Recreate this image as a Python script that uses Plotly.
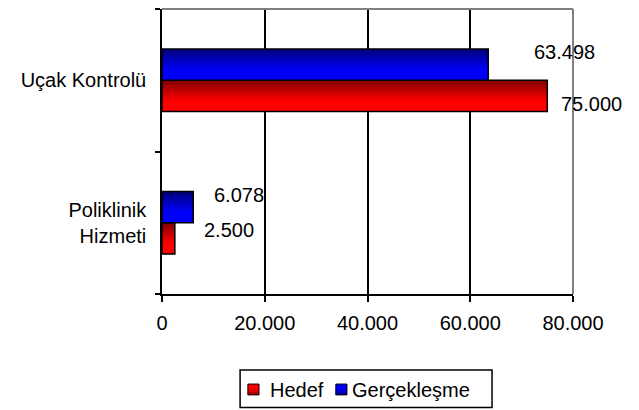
import plotly.graph_objects as go

# data
categories = ["Poliklinik Hizmeti", "Uçak Kontrolü"]
category_labels = ["Poliklinik<br>Hizmeti", "Uçak Kontrolü"]
hedef = [2500, 75000]
gerceklesme = [6078, 63498]
x_ticks = [0, 20000, 40000, 60000, 80000]
series_names = ["Hedef", "Gerçekleşme"]

FONT = "Liberation Sans, Arial, sans-serif"
BAR_H = 0.22
N_STRIPES = 18
RED = ((0x80, 0, 0), (0xff, 0, 0))
BLUE = ((0, 0, 0x78), (0, 0, 0xf8))


def fmt(v):
    return f"{v:,}".replace(",", ".")


def shade(dark, bright, t):
    # t = 0 top of bar, 1 bottom of bar
    k = min(t / 0.65, 1.0)
    return "rgb({},{},{})".format(*[int(d + (b - d) * k) for d, b in zip(dark, bright)])


def gradient_bars(fig, values, base, dark, bright):
    # stripes from bottom (bright) to top (dark); each one covers up to the bar top
    for i in range(N_STRIPES):
        start = base + i * BAR_H / N_STRIPES
        t = 1 - (i + 0.5) / N_STRIPES
        fig.add_trace(go.Bar(
            x=values, y=categories, orientation="h", showlegend=False,
            offset=start, width=base + BAR_H - start,
            marker=dict(color=shade(dark, bright, t), line=dict(width=0)),
            hoverinfo="skip"))
    # black outline
    fig.add_trace(go.Bar(
        x=values, y=categories, orientation="h", showlegend=False,
        offset=base, width=BAR_H,
        marker=dict(color="rgba(0,0,0,0)", line=dict(color="black", width=1.5)),
        hoverinfo="skip"))


fig = go.Figure()
gradient_bars(fig, hedef, -BAR_H, *RED)
gradient_bars(fig, gerceklesme, 0, *BLUE)

# data labels (Excel placed them a bit irregularly)
label_shift = {"Hedef": [(27, -7), (12, -24)], "Gerçekleşme": [(19, 28), (44, 28)]}
for name, values in zip(series_names, (hedef, gerceklesme)):
    for cat, v, (dx, dy) in zip(categories, values, label_shift[name]):
        fig.add_annotation(x=v, y=cat, text=fmt(v), showarrow=False,
                           xanchor="left", yanchor="middle",
                           xshift=dx, yshift=dy,
                           font=dict(family=FONT, size=20, color="black"))

# plot area border (gray, top and right)
border = dict(color="#808080", width=2)
fig.add_shape(type="line", xref="paper", yref="paper", x0=1, x1=1, y0=0, y1=1,
              line=border, layer="above")
fig.add_shape(type="line", xref="paper", yref="paper", x0=0, x1=1, y0=1, y1=1,
              line=border, layer="above")

# legend box drawn like the Excel one
fig.add_shape(type="rect", xref="paper", yref="paper", x0=0.19, x1=0.803,
              y0=-0.398, y1=-0.267, line=dict(color="black", width=1.5),
              fillcolor="white")
legend_items = [(series_names[0], RED, 0.209, 0.258), (series_names[1], BLUE, 0.423, 0.457)]
for name, (dark, bright), sx, tx in legend_items:
    # small gradient square with black border
    for j in range(4):
        fig.add_shape(type="rect", xref="paper", yref="paper", x0=sx, x1=sx + 0.027,
                      y0=-0.354, y1=-0.316 - j * 0.0095, line=dict(width=0),
                      fillcolor=shade(dark, bright, 1 - j / 4))
    fig.add_shape(type="rect", xref="paper", yref="paper", x0=sx, x1=sx + 0.027,
                  y0=-0.354, y1=-0.316, line=dict(color="black", width=1))
    fig.add_annotation(xref="paper", yref="paper", x=tx, y=-0.336, text=name,
                       showarrow=False, xanchor="left", yanchor="middle",
                       font=dict(family=FONT, size=20, color="black"))

fig.update_layout(
    barmode="overlay",
    separators=",.",
    width=631, height=402,
    margin=dict(l=154, r=66, t=1, b=116),
    paper_bgcolor="white", plot_bgcolor="white",
    font=dict(family=FONT, size=20, color="black"),
    showlegend=False,
)
fig.update_xaxes(range=[0, 80000], tickvals=x_ticks, tickformat=",d",
                 showgrid=True, gridcolor="black", gridwidth=1.5,
                 showline=True, linecolor="black", linewidth=1.5,
                 ticks="outside", ticklen=6, tickcolor="black", tickwidth=1.5,
                 ticklabelstandoff=4, zeroline=False, fixedrange=True)
fig.update_yaxes(type="category", categoryorder="array", categoryarray=categories,
                 tickvals=categories, ticktext=category_labels,
                 range=[-0.5, 1.5], tickson="boundaries",
                 showline=True, linecolor="black", linewidth=1.5,
                 ticks="outside", ticklen=5, tickcolor="black", tickwidth=1.5,
                 ticklabelstandoff=10, showgrid=False, fixedrange=True)

fig.write_html("out.html")
